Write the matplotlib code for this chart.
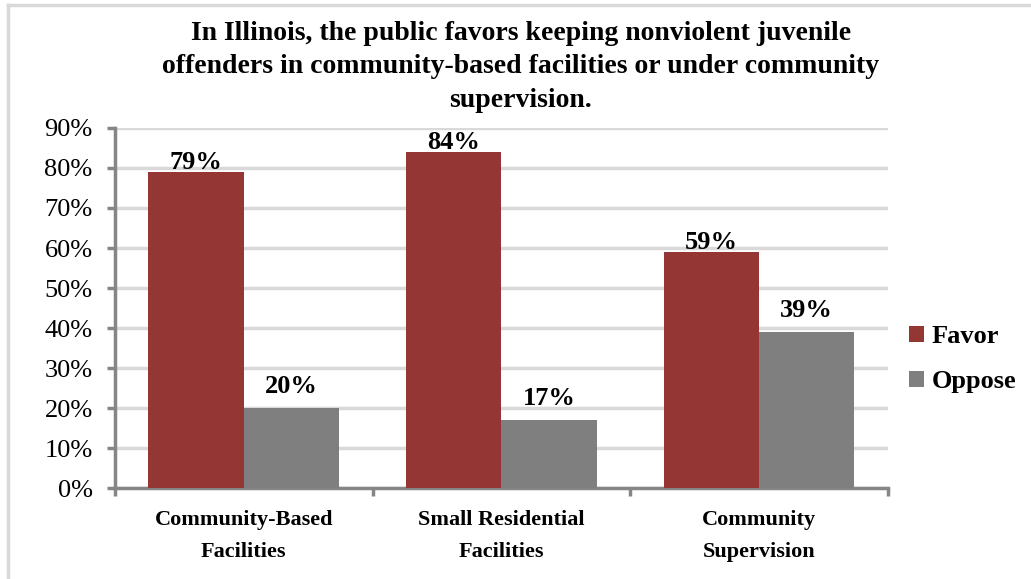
import matplotlib.pyplot as plt
import numpy as np
from matplotlib.lines import Line2D

CATEGORIES = ["Community-Based\nFacilities", "Small Residential\nFacilities", "Community\nSupervision"]
FAVOR = [79, 84, 59]
OPPOSE = [20, 17, 39]
SERIES = ["Favor", "Oppose"]
COLOURS = ["#943634", "#7f7f7f"]
TITLE = ("In Illinois, the public favors keeping nonviolent juvenile\n"
         "offenders in community-based facilities or under community\n"
         "supervision.")

plt.rcParams["font.family"] = ["Liberation Serif", "DejaVu Serif"]

fig = plt.figure(figsize=(10.31, 5.79), dpi=100)
ax = fig.add_axes([0.1115, 0.157, 0.7495, 0.622])

x = np.arange(len(CATEGORIES))
width = 0.37
label_lift = [-0.4, 2.6]
for k, (vals, name, col) in enumerate(zip([FAVOR, OPPOSE], SERIES, COLOURS)):
    pos = x + (k - 0.5) * width
    ax.bar(pos, vals, width, color=col, label=name, zorder=3)
    for px, v in zip(pos, vals):
        ax.text(px, v + label_lift[k], f"{v}%", ha="center", va="bottom",
                fontsize=19, fontweight="bold", zorder=4)

ax.set_xlim(-0.5, 2.5)
ax.set_ylim(0, 90)
ax.set_yticks(np.arange(0, 91, 10))
ax.set_yticklabels([f"{t}%" for t in range(0, 91, 10)], fontsize=19)
ax.yaxis.grid(True, color="#d9d9d9", linewidth=2.5, zorder=0)
ax.set_axisbelow(True)

# category labels between boundary ticks
ax.set_xticks([-0.5, 0.5, 1.5, 2.5])
ax.set_xticklabels([])
ax.set_xticks(x, minor=True)
ax.set_xticklabels(CATEGORIES, minor=True, fontsize=16, fontweight="bold",
                   linespacing=1.75)
ax.tick_params(axis="x", which="minor", length=0, pad=16)
ax.tick_params(axis="x", which="major", length=6, width=2.5, color="#868686", direction="out")
ax.tick_params(axis="y", length=6, width=2.5, color="#868686", pad=10)

for s in ["top", "right"]:
    ax.spines[s].set_visible(False)
for s in ["left", "bottom"]:
    ax.spines[s].set_color("#868686")
    ax.spines[s].set_linewidth(2.5)

fig.text(0.505, 0.964, TITLE, ha="center", va="top", fontsize=20,
         fontweight="bold", linespacing=1.45)

ax.legend(loc="center left", bbox_to_anchor=(1.014, 0.358), frameon=False,
          borderaxespad=0, prop={"size": 19, "weight": "bold"}, handlelength=0.55,
          handleheight=0.55, handletextpad=0.3, labelspacing=0.85)

# outer frame on left and top edges
fig.add_artist(Line2D([0.008, 0.008], [0, 0.991], transform=fig.transFigure,
                      color="#d9d9d9", linewidth=2.5))
fig.add_artist(Line2D([0.008, 1.0], [0.991, 0.991], transform=fig.transFigure,
                      color="#d9d9d9", linewidth=2.5))

fig.savefig("out.png", dpi=100)
